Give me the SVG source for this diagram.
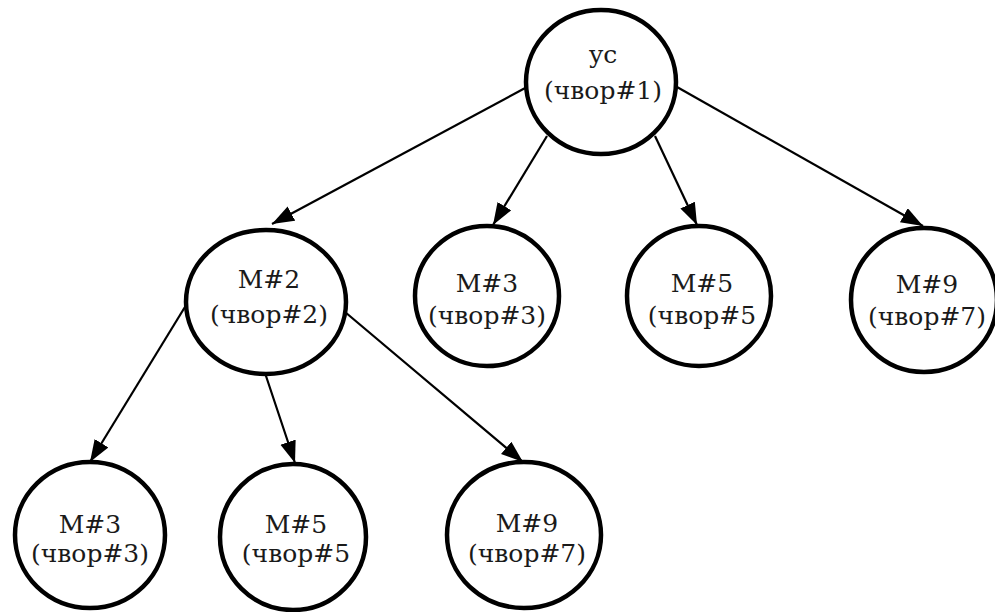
<svg xmlns="http://www.w3.org/2000/svg" width="995" height="612" viewBox="0 0 995 612">
  <style>
    .node ellipse { fill: #ffffff; stroke: #000000; stroke-width: 4.5; }
    .node text { font-family: "DejaVu Serif", "Liberation Serif", serif; font-size: 25px; fill: #1a1a1a; text-anchor: middle; }
    .edge { stroke: #000000; stroke-width: 2.2; fill: none; marker-end: url(#arrow); }
  </style>
  <defs>
    <marker id="arrow" markerUnits="userSpaceOnUse" markerWidth="24" markerHeight="18" refX="22" refY="8" orient="auto">
      <path d="M0,0 L22,8 L0,16 z" fill="#000000"/>
    </marker>
  </defs>
  <rect width="995" height="612" fill="#ffffff"/>

  <g id="connectors">
    <line class="edge" x1="527" y1="87" x2="272" y2="224"/>
    <line class="edge" x1="547" y1="136" x2="493" y2="225"/>
    <line class="edge" x1="655" y1="136" x2="697" y2="225"/>
    <line class="edge" x1="677" y1="87" x2="923" y2="226"/>
    <line class="edge" x1="188" y1="302" x2="90" y2="462"/>
    <line class="edge" x1="265" y1="373" x2="295" y2="463"/>
    <line class="edge" x1="345" y1="312" x2="523" y2="462"/>
  </g>

  <g id="root" class="node">
    <ellipse cx="601" cy="82" rx="75" ry="72"/>
    <text x="603" y="63">ус</text>
    <text x="603" y="99">(чвор#1)</text>
  </g>
  <g id="m2" class="node">
    <ellipse cx="266" cy="302" rx="80" ry="72"/>
    <text x="269" y="288">M#2</text>
    <text x="269" y="323">(чвор#2)</text>
  </g>
  <g id="m3a" class="node">
    <ellipse cx="487" cy="296" rx="72" ry="70"/>
    <text x="487" y="292">M#3</text>
    <text x="487" y="324">(чвор#3)</text>
  </g>
  <g id="m5a" class="node">
    <ellipse cx="699" cy="296" rx="72" ry="70"/>
    <text x="702" y="292">M#5</text>
    <text x="702" y="324">(чвор#5</text>
  </g>
  <g id="m9a" class="node">
    <ellipse cx="924" cy="300" rx="73" ry="72"/>
    <text x="927" y="293">M#9</text>
    <text x="927" y="325">(чвор#7)</text>
  </g>
  <g id="m3b" class="node">
    <ellipse cx="90" cy="535" rx="75" ry="73"/>
    <text x="90" y="533">M#3</text>
    <text x="90" y="562">(чвор#3)</text>
  </g>
  <g id="m5b" class="node">
    <ellipse cx="293" cy="537" rx="73" ry="73"/>
    <text x="296" y="533">M#5</text>
    <text x="296" y="562">(чвор#5</text>
  </g>
  <g id="m9b" class="node">
    <ellipse cx="524" cy="535" rx="77" ry="73"/>
    <text x="527" y="532">M#9</text>
    <text x="527" y="562">(чвор#7)</text>
  </g>
</svg>
